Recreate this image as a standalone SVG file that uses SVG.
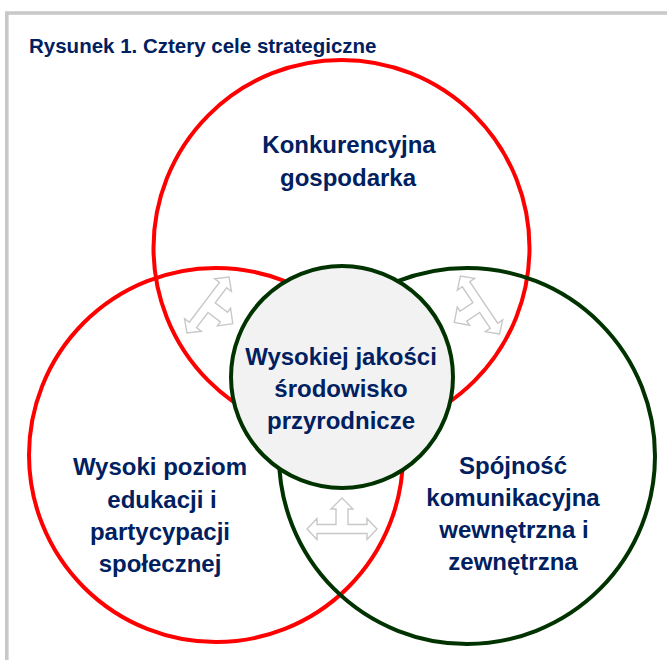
<svg xmlns="http://www.w3.org/2000/svg" width="667" height="660" viewBox="0 0 667 660">
<style>
.frame{fill:none;stroke:#c8c8c8;stroke-width:3.6}
.red{fill:none;stroke:#ff0000;stroke-width:4}
.green{fill:none;stroke:#003300;stroke-width:4}
.core{fill:#f2f2f2;stroke:#003300;stroke-width:4}
.arrow{fill:#ffffff;stroke:#c8c8c8;stroke-width:1.4;stroke-linejoin:miter}
text{font-family:"Liberation Sans",Arial,sans-serif;font-weight:bold;fill:#002060;text-anchor:middle}
.t{font-size:24px}
.title{font-size:20.5px;text-anchor:start}
</style>
<defs>
<path id="tri" d="M-35,0 L-25,-10.5 L-25,-4.5 L-6,-4.5 L-6,-20 L-11,-20 L0,-31 L11,-20 L6,-20 L6,-4.5 L25,-4.5 L25,-10.5 L35,0 L25,10.5 L25,4.5 L-25,4.5 L-25,10.5 Z"/>
</defs>
<path class="frame" d="M6.8,662 V13 H669"/>
<text class="title" x="29" y="53">Rysunek 1. Cztery cele strategiczne</text>
<g id="gospodarka">
<circle class="red" cx="341.5" cy="248" r="188"/>
<text class="t" x="349" y="153">Konkurencyjna</text>
<text class="t" x="348" y="186">gospodarka</text>
</g>
<g id="edukacja">
<circle class="red" cx="216" cy="455" r="187"/>
<text class="t" x="160" y="475">Wysoki poziom</text>
<text class="t" x="162" y="508">edukacji i</text>
<text class="t" x="160" y="540">partycypacji</text>
<text class="t" x="160" y="572">społecznej</text>
</g>
<g id="spojnosc">
<circle class="green" cx="467" cy="456" r="188"/>
<text class="t" x="513" y="474">Spójność</text>
<text class="t" x="513" y="506">komunikacyjna</text>
<text class="t" x="514" y="538">wewnętrzna i</text>
<text class="t" x="513" y="570">zewnętrzna</text>
</g>
<g id="connectors">
<use href="#tri" class="arrow" transform="translate(208,305) rotate(127)"/>
<use href="#tri" class="arrow" transform="translate(480,305) rotate(-124)"/>
<use href="#tri" class="arrow" transform="translate(342,529)"/>
</g>
<g id="srodowisko">
<circle class="core" cx="342" cy="377" r="111"/>
<text class="t" x="341" y="365">Wysokiej jakości</text>
<text class="t" x="341" y="397">środowisko</text>
<text class="t" x="341" y="429">przyrodnicze</text>
</g>
</svg>
